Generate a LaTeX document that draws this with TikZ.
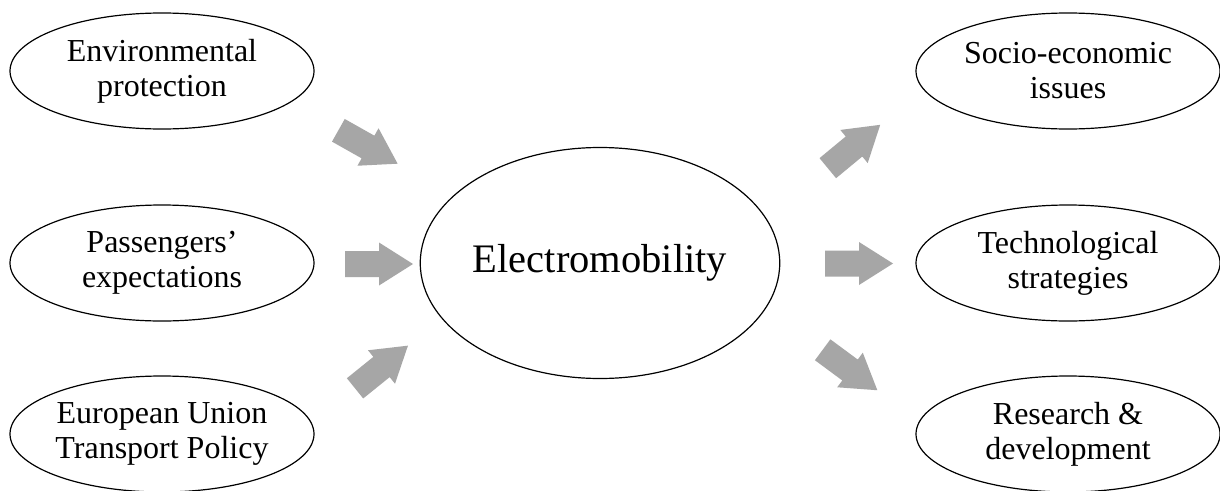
\documentclass[tikz,border=0pt]{standalone}
\usepackage{fontspec}
\setmainfont{Liberation Serif}
\usetikzlibrary{shapes.geometric}
\definecolor{arrowgray}{RGB}{166,166,166}
\tikzset{
  topic/.style={ellipse, draw=black, line width=1.2pt, minimum width=304pt,
    minimum height=116pt, inner sep=0pt, align=center,
    font=\fontsize{32}{35}\selectfont},
  core/.style={ellipse, draw=black, line width=1.2pt, minimum width=345pt,
    minimum height=231pt, inner sep=0pt, font=\fontsize{40.5}{44}\selectfont},
  blockarrow/.pic={\fill[arrowgray] (-34,-13) -- (0,-13) -- (0,-21.5) -- (34,0)
    -- (0,21.5) -- (0,13) -- (-34,13) -- cycle;}
}
\begin{document}
\begin{tikzpicture}[x=1pt,y=-1pt]
\useasboundingbox (0,0) rectangle (1220,490);
\fill[white] (0,0) rectangle (1220,490);
% left ellipses
\node[topic] (env) at (162,71) {Environmental\\protection};
\node[topic] (pas) at (162,263) {Passengers'\\expectations};
\node[topic] (eu)  at (162,434) {European Union\\Transport Policy};
% centre
\node[core] (em) at (600,263) {Electromobility};
% right ellipses
\node[topic] (soc) at (1068,71) {Socio-economic\\issues};
\node[topic] (tec) at (1068,263) {Technological\\strategies};
\node[topic] (res) at (1068,434) {Research \&\\development};
% arrows
\pic[rotate=-29.4] (a1) at (368,147) {blockarrow};
\pic (a2) at (379,264) {blockarrow};
\pic[rotate=38.9] (a3) at (381.5,367) {blockarrow};
\pic[rotate=39.6] (a4) at (854,146.5) {blockarrow};
\pic (a5) at (859,263.5) {blockarrow};
\pic[rotate=-36.5] (a6) at (850,370) {blockarrow};
\end{tikzpicture}
\end{document}
